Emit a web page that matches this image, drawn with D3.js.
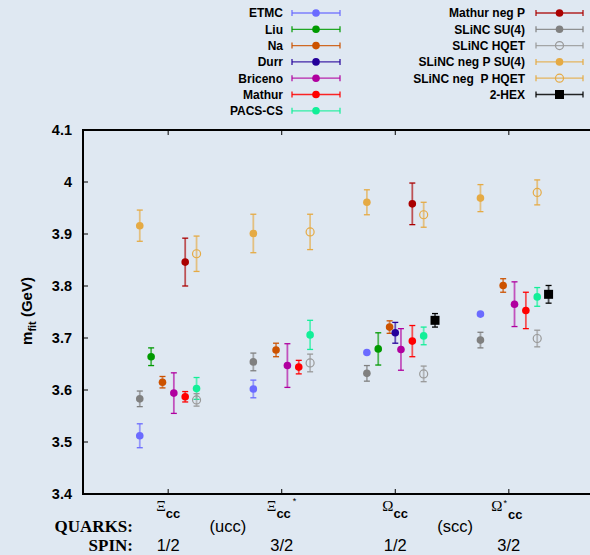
<!DOCTYPE html>
<html><head><meta charset="utf-8">
<script src="https://cdn.jsdelivr.net/npm/d3@7"></script>
<style>
html,body{margin:0;padding:0;background:#dfe8f2;}
svg{display:block;}
</style></head>
<body>
<svg id="chart" width="590" height="555"></svg>
<script>
// ---------- data ----------
const categories = ["Ξ|cc|", "Ξ|cc|*", "Ω|cc|", "Ω|cc|*"];
const quarkLabels = ["(ucc)", "(scc)"];
const spinLabels = ["1/2", "3/2", "1/2", "3/2"];
const yTicks = [3.4, 3.5, 3.6, 3.7, 3.8, 3.9, 4, 4.1];
const yTickLabels = ["3.4", "3.5", "3.6", "3.7", "3.8", "3.9", "4", "4.1"];

const etmc = [3.512, 3.602, 3.672, 3.746];
const etmcErr = [0.023, 0.017, 0.003, 0.003];
const liu = [3.664, null, 3.679, null];
const liuErr = [0.017, null, 0.031, null];
const na = [3.615, 3.677, 3.721, 3.801];
const naErr = [0.011, 0.013, 0.012, 0.013];
const durr = [null, null, 3.710, null];
const durrErr = [null, null, 0.020, null];
const briceno = [3.594, 3.647, 3.678, 3.765];
const bricenoErr = [0.039, 0.042, 0.040, 0.043];
const mathur = [3.587, 3.644, 3.694, 3.753];
const mathurErr = [0.010, 0.013, 0.030, 0.035];
const pacs = [3.603, 3.706, 3.704, 3.779];
const pacsErr = [0.021, 0.028, 0.017, 0.018];
const mathurNeg = [3.846, null, 3.958, null];
const mathurNegErr = [0.046, null, 0.040, null];
const slincSU4 = [3.583, 3.654, 3.632, 3.696];
const slincSU4Err = [0.015, 0.017, 0.015, 0.015];
const slincHQET = [3.581, 3.652, 3.631, 3.699];
const slincHQETErr = [0.012, 0.017, 0.015, 0.016];
const slincNegSU4 = [3.916, 3.901, 3.961, 3.969];
const slincNegSU4Err = [0.030, 0.037, 0.024, 0.026];
const slincNegHQET = [3.862, 3.904, 3.937, 3.980];
const slincNegHQETErr = [0.034, 0.034, 0.024, 0.024];
const hex = [null, null, 3.734, 3.784];
const hexErr = [null, null, 0.013, 0.017];

// ---------- series table (styles separate) ----------
const series = [
  {name:"ETMC", v:etmc, e:etmcErr, color:"#6b6bff", off:-0.25, shape:"dot", col:0},
  {name:"Liu", v:liu, e:liuErr, color:"#009a00", off:-0.15, shape:"dot", col:0},
  {name:"Na", v:na, e:naErr, color:"#cc5200", off:-0.05, shape:"dot", col:0},
  {name:"Durr", v:durr, e:durrErr, color:"#24009a", off:0.0, shape:"dot", col:0},
  {name:"Briceno", v:briceno, e:bricenoErr, color:"#b0009f", off:0.05, shape:"dot", col:0},
  {name:"Mathur", v:mathur, e:mathurErr, color:"#ff0000", off:0.15, shape:"dot", col:0},
  {name:"PACS-CS", v:pacs, e:pacsErr, color:"#12ef98", off:0.25, shape:"dot", col:0},
  {name:"Mathur neg P", v:mathurNeg, e:mathurNegErr, color:"#aa0000", off:0.15, shape:"dot", col:1},
  {name:"SLiNC SU(4)", v:slincSU4, e:slincSU4Err, color:"#808080", off:-0.25, shape:"dot", col:1},
  {name:"SLiNC HQET", v:slincHQET, e:slincHQETErr, color:"#999999", off:0.25, shape:"open", col:1},
  {name:"SLiNC neg P SU(4)", v:slincNegSU4, e:slincNegSU4Err, color:"#e5aa44", off:-0.25, shape:"dot", col:1},
  {name:"SLiNC neg  P HQET", v:slincNegHQET, e:slincNegHQETErr, color:"#e5aa44", off:0.25, shape:"open", col:1},
  {name:"2-HEX", v:hex, e:hexErr, color:"#000000", off:0.35, shape:"square", col:1}
];

// ---------- layout ----------
const svg = d3.select("#chart");
const pLeft = 83, pRight = 594, pTop = 130, pBottom = 494;
const x = d3.scaleLinear().domain([0.25, 4.75]).range([pLeft, pRight]);
const y = d3.scaleLinear().domain([3.4, 4.1]).range([pBottom, pTop]);
const sans = "'Liberation Sans', Arial, Helvetica, sans-serif";
const serif = "'Liberation Serif', 'Times New Roman', serif";

// ticks (inward)
const gT = svg.append("g");
const catPos = categories.map((c, i) => i + 1);
gT.selectAll("line.xt").data(catPos).join("line")
  .attr("x1", d => x(d)).attr("x2", d => x(d))
  .attr("y1", pBottom).attr("y2", pBottom - 5)
  .attr("stroke", "#000").attr("stroke-width", 1);
gT.selectAll("line.xtt").data(catPos).join("line")
  .attr("x1", d => x(d)).attr("x2", d => x(d))
  .attr("y1", pTop).attr("y2", pTop + 5)
  .attr("stroke", "#000").attr("stroke-width", 1);
gT.selectAll("line.yt").data(yTicks).join("line")
  .attr("x1", pLeft).attr("x2", pLeft + 5)
  .attr("y1", d => y(d)).attr("y2", d => y(d))
  .attr("stroke", "#000").attr("stroke-width", 1);

// frame
svg.append("path")
  .attr("d", `M${pRight},${pTop}H${pLeft}V${pBottom}H${pRight}`)
  .attr("fill", "none").attr("stroke", "#000").attr("stroke-width", 2);

// y tick labels
svg.selectAll("text.ytl").data(yTicks).join("text")
  .attr("x", pLeft - 11).attr("y", d => y(d) + 5)
  .attr("text-anchor", "end")
  .attr("font-family", sans).attr("font-weight", "bold").attr("font-size", 14.5)
  .text((d, i) => yTickLabels[i]);

// y axis title
const yt = svg.append("text")
  .attr("transform", `translate(32,311) rotate(-90)`)
  .attr("text-anchor", "middle")
  .attr("font-family", sans).attr("font-weight", "bold").attr("font-size", 15);
yt.append("tspan").text("m");
yt.append("tspan").attr("font-size", 11).attr("dy", 4).text("fit");
yt.append("tspan").attr("dy", -4).text(" (GeV)");

// category labels
const greekOff = [-12, -15, -13, -17.5];
categories.forEach((c, i) => {
  const [gr, sub, star] = c.split("|");
  const cx = x(i + 1) + greekOff[i];
  const t = svg.append("text").attr("x", cx).attr("y", 511)
    .attr("font-family", serif).attr("font-size", 15);
  t.append("tspan").text(gr);
  if (star && i === 3) {
    t.append("tspan").attr("font-family", sans).attr("font-size", 9).attr("dx", 1).attr("dy", -5).text(star);
    t.append("tspan").attr("font-family", sans).attr("font-weight", "bold").attr("font-size", 13).attr("dx", 1).attr("dy", 13).text(sub);
  } else {
    t.append("tspan").attr("font-family", sans).attr("font-weight", "bold").attr("font-size", 13).attr("dx", 0).attr("dy", 7).text(sub);
    if (star) t.append("tspan").attr("font-family", sans).attr("font-size", 9).attr("dx", 2).attr("dy", -14).text(star);
  }
});

// QUARKS / SPIN
svg.append("text").attr("x", 133).attr("y", 532).attr("text-anchor", "end")
  .attr("font-family", serif).attr("font-weight", "bold").attr("font-size", 17).text("QUARKS:");
svg.append("text").attr("x", 133).attr("y", 551).attr("text-anchor", "end")
  .attr("font-family", serif).attr("font-weight", "bold").attr("font-size", 17).text("SPIN:");
quarkLabels.forEach((q, i) => {
  svg.append("text").attr("x", (x(2 * i + 1) + x(2 * i + 2)) / 2 + 3).attr("y", 532)
    .attr("text-anchor", "middle").attr("font-family", sans).attr("font-size", 16.5).text(q);
});
svg.selectAll("text.spin").data(spinLabels).join("text")
  .attr("x", (d, i) => x(i + 1)).attr("y", 551)
  .attr("text-anchor", "middle").attr("font-family", sans).attr("font-size", 16.5)
  .text(d => d);

// ---------- marks ----------
function drawMarker(sel, s, cx, cy) {
  if (s.shape === "dot") {
    sel.append("circle").attr("cx", cx).attr("cy", cy).attr("r", 3.8).attr("fill", s.color);
  } else if (s.shape === "open") {
    sel.append("circle").attr("cx", cx).attr("cy", cy).attr("r", 4).attr("fill", "none")
      .attr("stroke", s.color).attr("stroke-width", 1.2);
  } else {
    sel.append("rect").attr("x", cx - 4.5).attr("y", cy - 4.5).attr("width", 9).attr("height", 9).attr("fill", s.color);
  }
}

const marks = svg.append("g");
series.forEach(s => {
  const gs = marks.append("g");
  s.v.forEach((val, i) => {
    if (val == null) return;
    const cx = x(i + 1 + s.off);
    const y1 = y(val + s.e[i]), y2 = y(val - s.e[i]);
    gs.append("line").attr("x1", cx).attr("x2", cx).attr("y1", y1).attr("y2", y2)
      .attr("stroke", s.color).attr("stroke-width", 1.8).attr("stroke-opacity", 0.65);
    [y1, y2].forEach(yy => gs.append("line").attr("x1", cx - 3).attr("x2", cx + 3)
      .attr("y1", yy).attr("y2", yy).attr("stroke", s.color).attr("stroke-width", 1.3));
    drawMarker(gs, s, cx, y(val));
  });
});

// ---------- legend ----------
const legCols = [{labelX: 283, x1: 292, x2: 340}, {labelX: 525, x1: 536, x2: 583}];
const leg = svg.append("g");
[0, 1].forEach(c => {
  series.filter(s => s.col === c).forEach((s, i) => {
    const L = legCols[c];
    const yy = 13 + i * 16.3;
    leg.append("text").attr("x", L.labelX).attr("y", yy + 4.3).attr("text-anchor", "end")
      .attr("font-family", sans).attr("font-weight", "bold").attr("font-size", 12)
      .style("white-space", "pre").text(s.name);
    leg.append("line").attr("x1", L.x1).attr("x2", L.x2).attr("y1", yy).attr("y2", yy)
      .attr("stroke", s.color).attr("stroke-width", 1.3).attr("stroke-opacity", 0.85);
    [L.x1, L.x2].forEach(xx => leg.append("line").attr("x1", xx).attr("x2", xx)
      .attr("y1", yy - 3).attr("y2", yy + 3).attr("stroke", s.color).attr("stroke-width", 1.2));
    drawMarker(leg, s, (L.x1 + L.x2) / 2, yy);
  });
});
</script>
</body></html>
